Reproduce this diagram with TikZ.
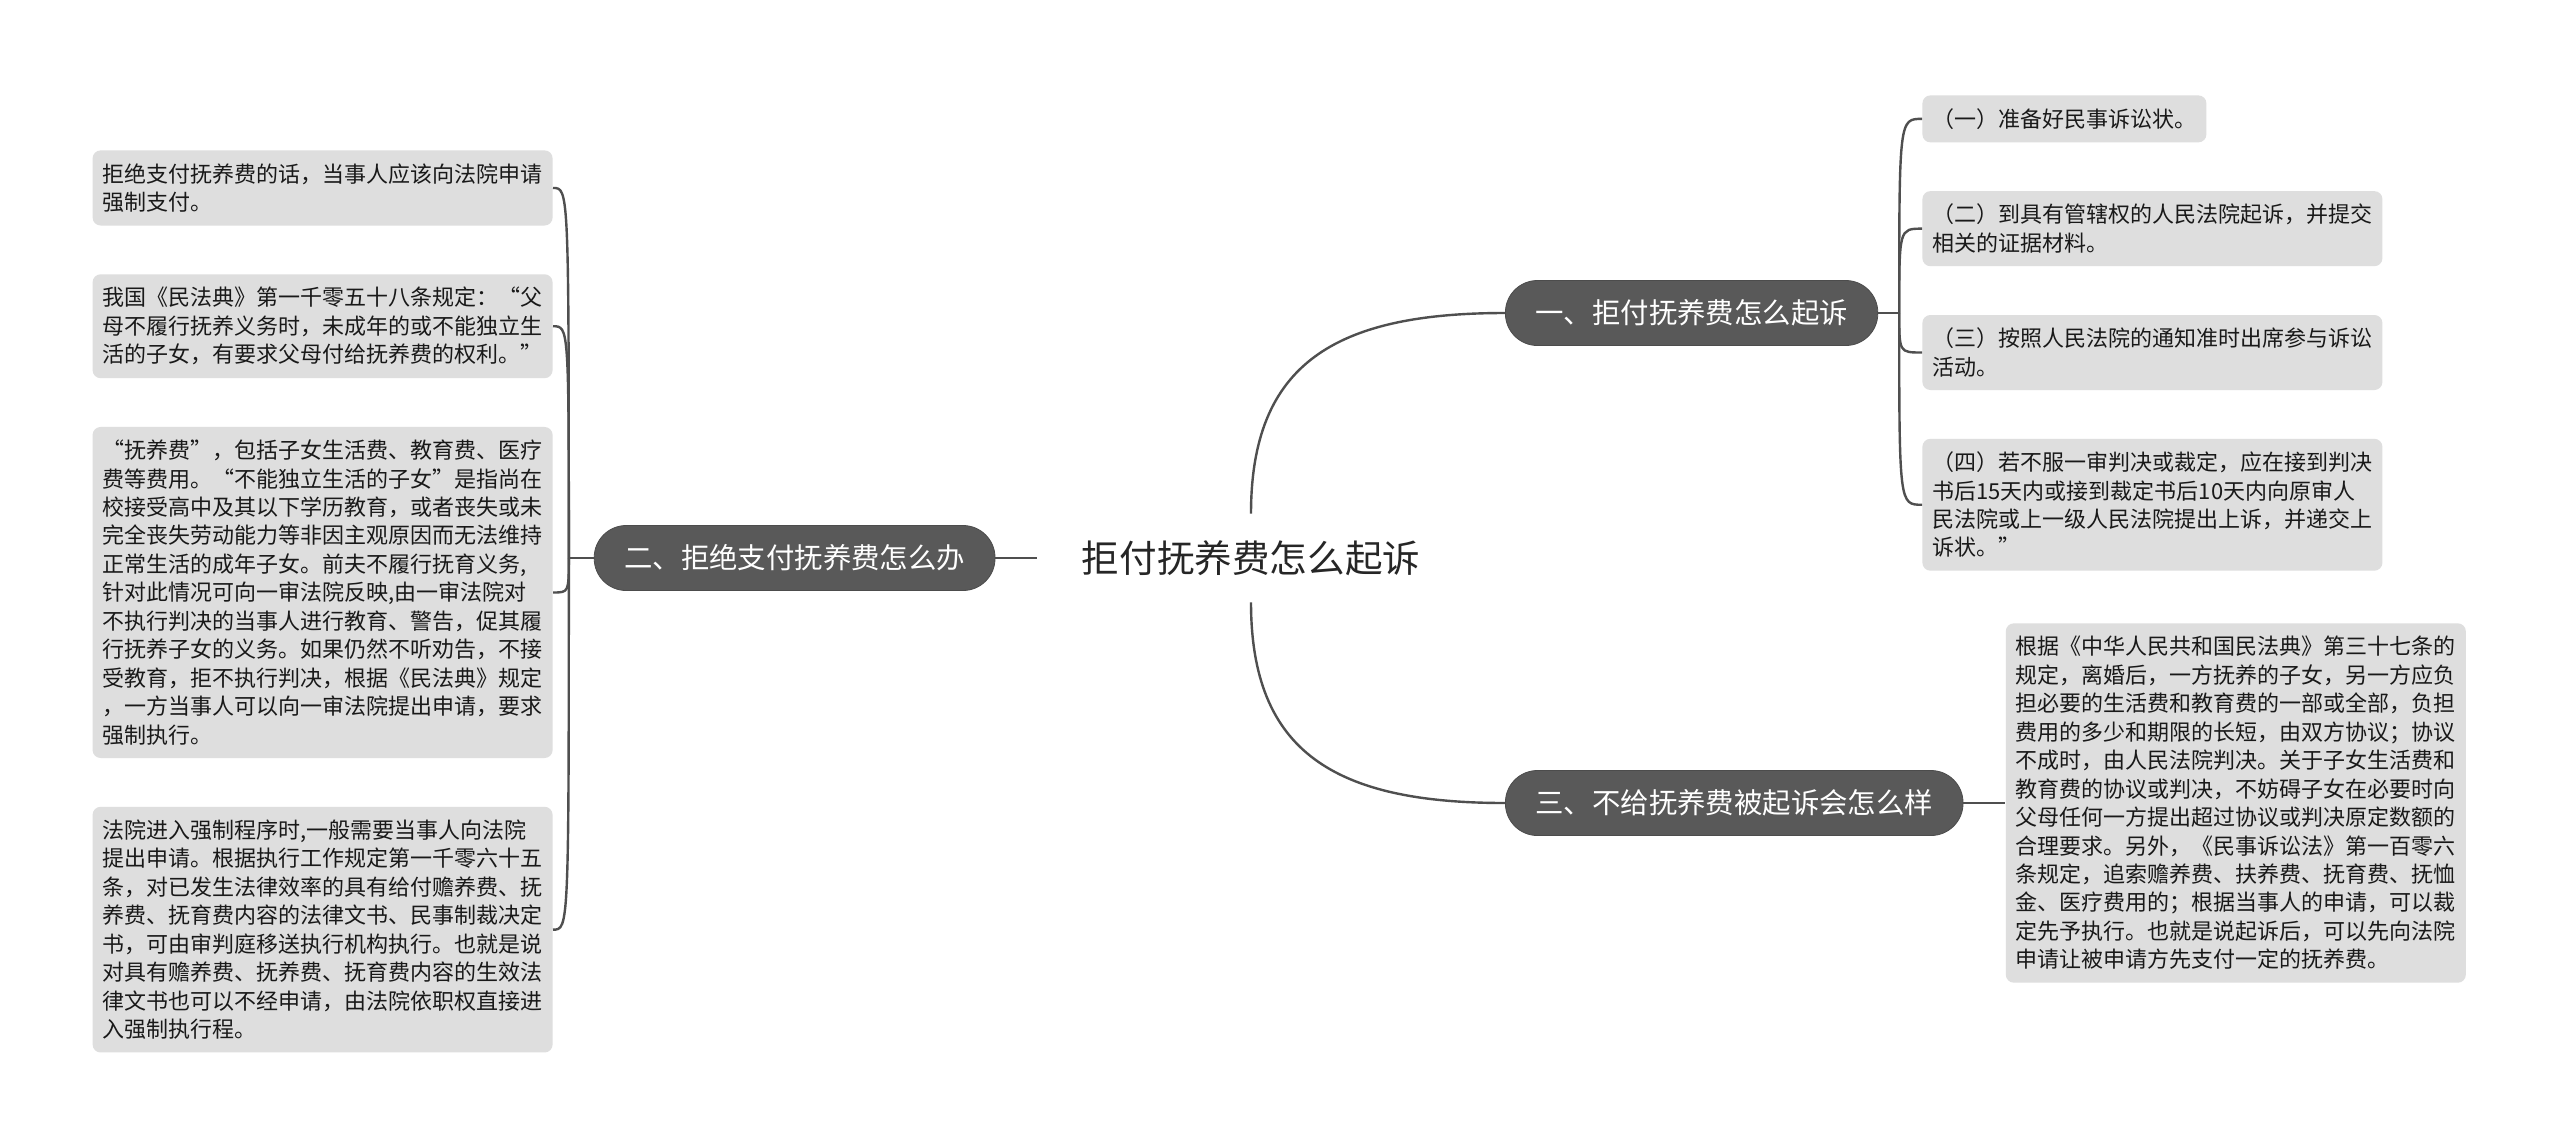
\documentclass[tikz,border=0pt]{standalone}
\usepackage{fontspec}
\setmainfont{Noto Sans CJK SC}
\usetikzlibrary{positioning}
\definecolor{branchgray}{HTML}{595959}
\definecolor{leafgray}{HTML}{DEDEDE}
\definecolor{linkgray}{HTML}{4F4F4F}

\begin{document}
\begin{tikzpicture}[x=0.5pt, y=-0.5pt,
  root/.style={inner xsep=22pt, minimum height=44pt, text=black!85,
               font=\fontsize{18.8pt}{22pt}\selectfont},
  branch/.style={fill=branchgray, draw=black!70, rounded corners=16pt, text=white,
                 inner xsep=15pt, minimum height=32.5pt,
                 font=\fontsize{14.2pt}{17pt}\selectfont},
  tag/.style={fill=leafgray, rounded corners=4pt, inner xsep=5pt, inner ysep=6.5pt,
              text=black!90, font=\fontsize{11pt}{14.22pt}\selectfont},
  leaf/.style={tag, align=left, text width=220pt},
  link/.style={draw=linkgray, line width=1.2pt}]
\fill[white] (0,0) rectangle (2560,1147);
\useasboundingbox (0,0) rectangle (2560,1147);
\node[root] (root) at (1251,558) {拒付抚养费怎么起诉};
\node[branch, left=21pt of root] (refuse) {二、拒绝支付抚养费怎么办};
\node[branch, anchor=west] (sue) at (1505,313) {一、拒付抚养费怎么起诉};
\node[branch, anchor=west] (notpay) at (1505,803) {三、不给抚养费被起诉会怎么样};
\node[leaf, anchor=north east] (l1) at (553,150)
  {拒绝支付抚养费的话，当事人应该向法院申请\\
   强制支付。};
\node[leaf, below=24pt of l1] (l2)
  {我国《民法典》第一千零五十八条规定：“父\\
   母不履行抚养义务时，未成年的或不能独立生\\
   活的子女，有要求父母付给抚养费的权利。”};
\node[leaf, below=24pt of l2] (l3)
  {“抚养费”，包括子女生活费、教育费、医疗\\
   费等费用。“不能独立生活的子女”是指尚在\\
   校接受高中及其以下学历教育，或者丧失或未\\
   完全丧失劳动能力等非因主观原因而无法维持\\
   正常生活的成年子女。前夫不履行抚育义务,\\
   针对此情况可向一审法院反映,由一审法院对\\
   不执行判决的当事人进行教育、警告，促其履\\
   行抚养子女的义务。如果仍然不听劝告，不接\\
   受教育，拒不执行判决，根据《民法典》规定\\
   ，一方当事人可以向一审法院提出申请，要求\\
   强制执行。};
\node[leaf, below=24pt of l3] (l4)
  {法院进入强制程序时,一般需要当事人向法院\\
   提出申请。根据执行工作规定第一千零六十五\\
   条，对已发生法律效率的具有给付赡养费、抚\\
   养费、抚育费内容的法律文书、民事制裁决定\\
   书，可由审判庭移送执行机构执行。也就是说\\
   对具有赡养费、抚养费、抚育费内容的生效法\\
   律文书也可以不经申请，由法院依职权直接进\\
   入强制执行程。};
\node[tag, anchor=north west] (r1) at (1922,95) {（一）准备好民事诉讼状。};
\node[leaf, below=24pt of r1.south west, anchor=north west] (r2)
  {（二）到具有管辖权的人民法院起诉，并提交\\
   相关的证据材料。};
\node[leaf, below=24pt of r2] (r3)
  {（三）按照人民法院的通知准时出席参与诉讼\\
   活动。};
\node[leaf, below=24pt of r3] (r4)
  {（四）若不服一审判决或裁定，应在接到判决\\
   书后15天内或接到裁定书后10天内向原审人\\
   民法院或上一级人民法院提出上诉，并递交上\\
   诉状。”};
\node[leaf, right=21pt of notpay] (r5)
  {根据《中华人民共和国民法典》第三十七条的\\
   规定，离婚后，一方抚养的子女，另一方应负\\
   担必要的生活费和教育费的一部或全部，负担\\
   费用的多少和期限的长短，由双方协议；协议\\
   不成时，由人民法院判决。关于子女生活费和\\
   教育费的协议或判决，不妨碍子女在必要时向\\
   父母任何一方提出超过协议或判决原定数额的\\
   合理要求。另外，《民事诉讼法》第一百零六\\
   条规定，追索赡养费、扶养费、抚育费、抚恤\\
   金、医疗费用的；根据当事人的申请，可以裁\\
   定先予执行。也就是说起诉后，可以先向法院\\
   申请让被申请方先支付一定的抚养费。};
\draw[link] (refuse.east) -- (root.west);
\draw[link] (root.north) .. controls +(0,-150) and +(-170,0) .. (sue.west);
\draw[link] (root.south) .. controls +(0,150) and +(-170,0) .. (notpay.west);
\draw[link] (refuse.west) -- ++(-25,0) coordinate (lhub);
\foreach \n in {l1,l2,l3,l4}
  \draw[link] (lhub) .. controls (lhub |- \n.east) .. (\n.east);
\draw[link] (sue.east) -- ++(21,0) coordinate (rhub);
\foreach \n in {r1,r2,r3,r4}
  \draw[link] (rhub) .. controls (rhub |- \n.west) .. (\n.west);
\draw[link] (notpay.east) -- (r5.west);
\end{tikzpicture}
\end{document}
